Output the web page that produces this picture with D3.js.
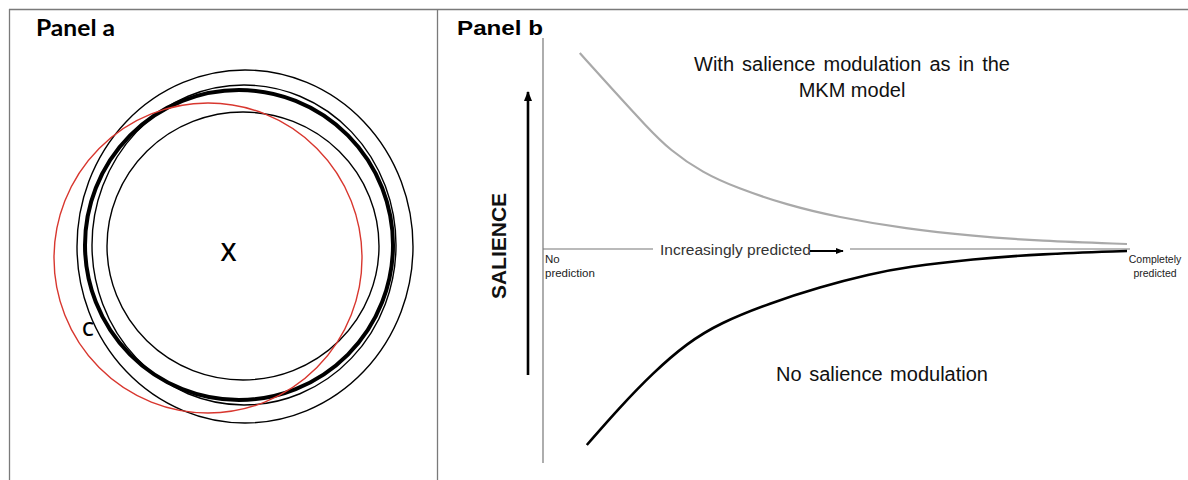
<!DOCTYPE html>
<html>
<head>
<meta charset="utf-8">
<script src="https://cdn.jsdelivr.net/npm/d3@7"></script>
<style>
  html, body { margin: 0; padding: 0; background: #fff; }
  svg { display: block; }
</style>
</head>
<body>
<svg id="fig" width="1188" height="480"></svg>
<script>
// ---- Panel a: rings around the target X (offsets from the central ring, px units)
const ringNames = ["outer", "middle", "inner", "average", "C"];
const ringCx    = [6, 5, 4, 0, -31];
const ringCy    = [1.5, 0, 1, 0, 13];
const ringRx    = [168, 152, 136, 154, 154];
const ringRy    = [176.5, 160, 134, 155, 155];

// ---- Panel b: salience against degree of prediction (0 = none, 100 = complete)
const modulatedX = [6.3, 12.0, 17.8, 21.7, 27.4, 33.2, 41.8, 50.3, 62.3, 73.6, 85.1, 100];
const modulatedY = [98, 79.5, 61, 49.5, 38, 30.5, 22, 16, 10, 6.5, 4, 2.5];
const plainX     = [7.5, 13.2, 18.8, 24.7, 30.3, 38.9, 47.4, 56.0, 62.3, 73.6, 85.1, 100];
const plainY     = [-98, -79, -62, -47, -37, -27, -19, -12.5, -9, -5, -2.5, -1];

const svg = d3.select("#fig");

// frame lines
const frame = svg.append("g").attr("stroke", "#7a7a7a").attr("stroke-width", 1.3).attr("fill", "none");
frame.append("line").attr("x1", 9).attr("x2", 1188).attr("y1", 9.5).attr("y2", 9.5);
frame.append("line").attr("x1", 9.5).attr("x2", 9.5).attr("y1", 9).attr("y2", 480);
frame.append("line").attr("x1", 437.5).attr("x2", 437.5).attr("y1", 9).attr("y2", 480);

// ================= Panel a =================
const pa = svg.append("g");
const ax = d3.scaleLinear().domain([-200, 200]).range([39, 439]);
const ay = d3.scaleLinear().domain([-200, 200]).range([45, 445]);
const aLen = v => ax(v) - ax(0);

const rings = ringNames.map((n, i) => ({ name: n, cx: ringCx[i], cy: ringCy[i], rx: ringRx[i], ry: ringRy[i] }));
const ringStyle = {
  outer:   { stroke: "#000", w: 1.4 },
  middle:  { stroke: "#000", w: 1.4 },
  inner:   { stroke: "#000", w: 1.4 },
  average: { stroke: "#000", w: 4 },
  C:       { stroke: "#d8372f", w: 1.4 }
};
pa.selectAll("ellipse.ring")
  .data(rings)
  .join("ellipse")
  .attr("class", "ring")
  .attr("cx", d => ax(d.cx))
  .attr("cy", d => ay(d.cy))
  .attr("rx", d => aLen(d.rx))
  .attr("ry", d => aLen(d.ry))
  .attr("fill", "none")
  .attr("stroke", d => ringStyle[d.name].stroke)
  .attr("stroke-width", d => ringStyle[d.name].w);

pa.append("text")
  .attr("x", 36).attr("y", 36)
  .attr("font-family", "Lato, 'Open Sans', sans-serif")
  .attr("font-weight", "bold")
  .attr("font-size", 22)
  .attr("textLength", 79).attr("lengthAdjust", "spacingAndGlyphs")
  .text("Panel a");

pa.append("text")
  .attr("x", 228.5).attr("y", 261)
  .attr("text-anchor", "middle")
  .attr("font-family", "'Open Sans', Lato, sans-serif")
  .attr("font-weight", 600)
  .attr("font-size", 25)
  .text("X");

pa.append("text")
  .attr("x", 88).attr("y", 336)
  .attr("text-anchor", "middle")
  .attr("font-family", "'Open Sans', Lato, sans-serif")
  .attr("font-weight", 600)
  .attr("font-size", 19)
  .text("C");

// ================= Panel b =================
const pb = svg.append("g");
const FONT = "'Liberation Sans', Arial, sans-serif";

const x = d3.scaleLinear().domain([0, 100]).range([543, 1127]);
const y = d3.scaleLinear().domain([-100, 100]).range([449, 49]);

const defs = svg.append("defs");
defs.append("marker")
  .attr("id", "head")
  .attr("viewBox", "0 0 10 10")
  .attr("refX", 9).attr("refY", 5)
  .attr("markerWidth", 4).attr("markerHeight", 4)
  .attr("markerUnits", "strokeWidth")
  .attr("orient", "auto")
  .append("path").attr("d", "M0,1 L10,5 L0,9 Z").attr("fill", "#000");

// vertical axis
pb.append("line")
  .attr("x1", x(0)).attr("x2", x(0))
  .attr("y1", 38).attr("y2", 463)
  .attr("stroke", "#777").attr("stroke-width", 1.2);

// horizontal axis, broken around its label
pb.append("line")
  .attr("x1", x(0)).attr("x2", 653)
  .attr("y1", y(0)).attr("y2", y(0))
  .attr("stroke", "#777").attr("stroke-width", 1.2);
pb.append("line")
  .attr("x1", 850).attr("x2", 1130)
  .attr("y1", y(0)).attr("y2", y(0))
  .attr("stroke", "#777").attr("stroke-width", 1.2);

pb.append("text")
  .attr("x", 660).attr("y", 255)
  .attr("font-family", FONT).attr("font-size", 15.5)
  .attr("fill", "#333")
  .text("Increasingly predicted");

pb.append("line")
  .attr("x1", 810).attr("x2", 843)
  .attr("y1", 251).attr("y2", 251)
  .attr("stroke", "#000").attr("stroke-width", 2)
  .attr("marker-end", "url(#head)");

// salience arrow
pb.append("line")
  .attr("x1", 528).attr("x2", 528)
  .attr("y1", 375).attr("y2", 92)
  .attr("stroke", "#000").attr("stroke-width", 2.6)
  .attr("marker-end", "url(#head)");

pb.append("text")
  .attr("transform", "translate(506,246) rotate(-90)")
  .attr("text-anchor", "middle")
  .attr("font-family", FONT).attr("font-weight", "bold").attr("font-size", 21)
  .attr("fill", "#111")
  .text("SALIENCE");

// curves
const line = d3.line().x(d => x(d[0])).y(d => y(d[1])).curve(d3.curveBasis);
pb.append("path")
  .attr("d", line(modulatedX.map((v, i) => [v, modulatedY[i]])))
  .attr("fill", "none").attr("stroke", "#a9a9a9").attr("stroke-width", 2.2);
pb.append("path")
  .attr("d", line(plainX.map((v, i) => [v, plainY[i]])))
  .attr("fill", "none").attr("stroke", "#000").attr("stroke-width", 2.6);

// end labels
const endLabels = pb.append("g").attr("font-family", FONT).attr("fill", "#222");
endLabels.append("text").attr("x", 545).attr("y", 263).attr("font-size", 11.5).text("No");
endLabels.append("text").attr("x", 545).attr("y", 277).attr("font-size", 11.5).text("prediction");
endLabels.append("text").attr("x", 1155).attr("y", 263).attr("font-size", 10.5).attr("text-anchor", "middle").text("Completely");
endLabels.append("text").attr("x", 1155).attr("y", 277).attr("font-size", 10.5).attr("text-anchor", "middle").text("predicted");

// curve captions
const cap = pb.append("g").attr("font-family", FONT).attr("font-size", 20).attr("fill", "#111").attr("text-anchor", "middle");
cap.append("text").attr("x", 852).attr("y", 71).attr("word-spacing", 2.5).text("With salience modulation as in the");
cap.append("text").attr("x", 852).attr("y", 97).text("MKM model");
cap.append("text").attr("x", 882).attr("y", 381).attr("word-spacing", 2).text("No salience modulation");

// panel title
pb.append("text")
  .attr("x", 457).attr("y", 35)
  .attr("font-family", FONT).attr("font-weight", "bold").attr("font-size", 21)
  .attr("textLength", 86).attr("lengthAdjust", "spacingAndGlyphs")
  .text("Panel b");
</script>
</body>
</html>
